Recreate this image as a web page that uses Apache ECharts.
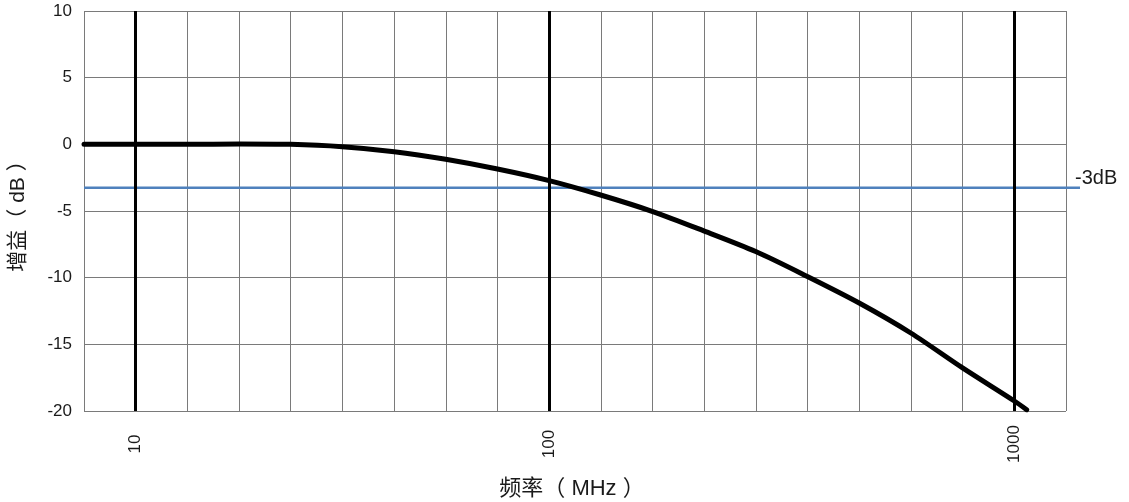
<!DOCTYPE html>
<html>
<head>
<meta charset="utf-8">
<style>
  html, body { margin: 0; padding: 0; background: #ffffff; }
  #chart { width: 1129px; height: 502px; }
</style>
<script src="https://cdn.jsdelivr.net/npm/echarts@6/dist/echarts.min.js"></script>
</head>
<body>
<div id="chart"></div>
<script>
// ---- data ----
const freqMHz = [7.5, 10, 13.3, 17.8, 23.7, 31.6, 42.2, 56.2, 75, 100, 129, 167, 215, 278, 359, 464, 599, 774, 1000, 1063];
const gainDb  = [0, 0, 0, 0.03, 0, -0.18, -0.55, -1.12, -1.85, -2.72, -3.8, -5.04, -6.49, -8.04, -9.91, -11.9, -14.15, -16.77, -19.25, -19.9];
const decadeFreqs = [10, 100, 1000];
const decadeLabels = ['10', '100', '1000'];
const thresholdDb = -3.25;
const thresholdLabel = '-3dB';
const thresholdFreqs = [7.5, 1384];
const yTicks = [-20, -15, -10, -5, 0, 5, 10];

// The reference's frequency grid: 8 divisions per decade from 10 to 100, 9 from 100 to 1000
function freqToPos(f) {
  const l = Math.log10(f);
  if (l <= 2) return 1 + 8 * (l - 1);
  return 9 + 9 * (l - 2);
}

const FONT = '"Liberation Sans", Arial, "Noto Sans CJK SC", sans-serif';
const chart = echarts.init(document.getElementById('chart'));

const curve = freqMHz.map((f, i) => [freqToPos(f), gainDb[i]]);
const thr = thresholdFreqs.map(f => [freqToPos(f), thresholdDb]);
const thrMax = freqToPos(thresholdFreqs[1]);
// overlay grid for the -3dB line, which runs a little past the plot's right edge
const unitPx = (1129 - 84 - 63) / 19;
const overlayRight = Math.round(63 - (thrMax - 19) * unitPx);

chart.setOption({
  animation: false,
  backgroundColor: '#ffffff',
  grid: [
    { left: 84, right: 63, top: 11, bottom: 91, containLabel: false, outerBoundsMode: 'none' },
    { left: 84, right: overlayRight, top: 11, bottom: 91, containLabel: false, outerBoundsMode: 'none' }
  ],
  xAxis: [{
    type: 'value',
    gridIndex: 0,
    min: 0, max: 19, interval: 1,
    axisLine: { show: false },
    axisTick: { show: false },
    splitLine: { show: true, lineStyle: { color: '#7a7a7a', width: 1 } },
    axisLabel: {
      rotate: 90,
      align: 'center',
      verticalAlign: 'middle',
      margin: 33,
      fontSize: 17,
      color: '#1a1a1a',
      fontFamily: FONT,
      showMinLabel: true, showMaxLabel: true,
      formatter: function (v) {
        for (let i = 0; i < decadeFreqs.length; i++) {
          if (Math.abs(freqToPos(decadeFreqs[i]) - v) < 1e-6) return decadeLabels[i];
        }
        return '';
      }
    },
    name: '频率（ MHz ）',
    nameLocation: 'middle',
    nameGap: 67,
    nameTextStyle: { fontSize: 22, color: '#1a1a1a', fontFamily: FONT, padding: [0, 6, 0, 0] }
  }, {
    type: 'value',
    gridIndex: 1,
    min: 0, max: thrMax,
    show: false
  }],
  yAxis: [{
    type: 'value',
    gridIndex: 0,
    min: yTicks[0], max: yTicks[yTicks.length - 1], interval: 5,
    axisLine: { show: false },
    axisTick: { show: false },
    splitLine: { show: true, lineStyle: { color: '#7a7a7a', width: 1 } },
    axisLabel: { fontSize: 17, color: '#1a1a1a', fontFamily: FONT, margin: 12 },
    name: '增益（ dB ）',
    nameLocation: 'middle',
    nameGap: 55,
    nameTextStyle: { fontSize: 21, color: '#1a1a1a', fontFamily: FONT }
  }, {
    type: 'value',
    gridIndex: 1,
    min: yTicks[0], max: yTicks[yTicks.length - 1],
    show: false
  }],
  series: [
    {
      type: 'line',
      xAxisIndex: 1,
      yAxisIndex: 1,
      data: thr,
      z: 2,
      symbol: 'none',
      silent: true,
      lineStyle: { color: '#4f81bd', width: 2.5 },
      endLabel: {
        show: true,
        formatter: thresholdLabel,
        fontSize: 20,
        color: '#1a1a1a',
        fontFamily: FONT,
        distance: -5,
        offset: [0, -9]
      }
    },
    {
      type: 'line',
      data: [],
      z: 3,
      silent: true,
      markLine: {
        silent: true,
        symbol: ['none', 'none'],
        label: { show: false },
        lineStyle: { color: '#000000', width: 3, type: 'solid' },
        data: decadeFreqs.map(f => ({ xAxis: freqToPos(f) }))
      }
    },
    {
      type: 'line',
      data: curve,
      z: 4,
      clip: false,
      smooth: 0.3,
      symbol: 'none',
      lineStyle: { color: '#000000', width: 5, cap: 'round', join: 'round' }
    }
  ]
});
</script>
</body>
</html>
